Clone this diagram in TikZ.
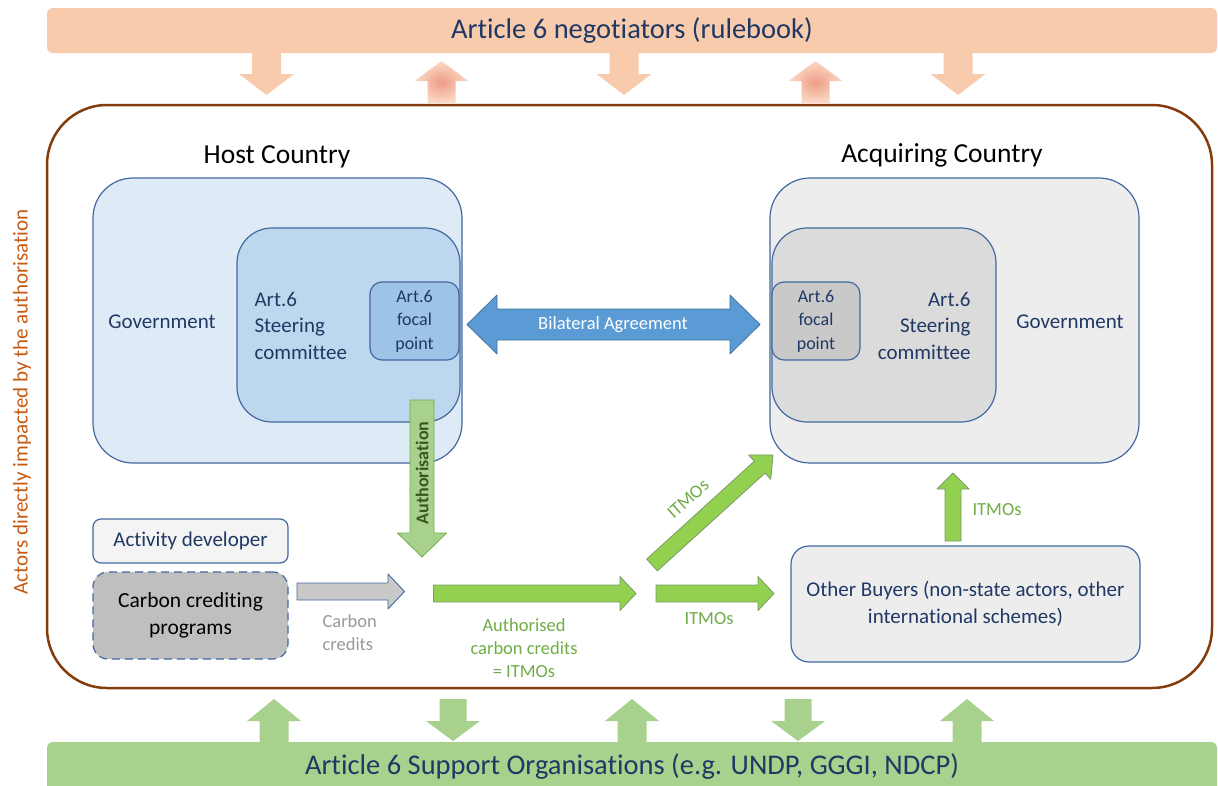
\documentclass[tikz,border=0pt]{standalone}
\usepackage{fontspec}
\setmainfont{Carlito}[Ligatures=NoCommon]
\usetikzlibrary{calc}
\definecolor{navy}{HTML}{203864}
\definecolor{peach}{HTML}{F8CBAD}
\definecolor{salmon}{HTML}{EE9C86}
\definecolor{leaf}{HTML}{A9D18E}
\definecolor{lime}{HTML}{92D050}
\definecolor{limeline}{HTML}{7E9A6A}
\definecolor{moss}{HTML}{70AD47}
\definecolor{forest}{HTML}{385723}
\definecolor{rust}{HTML}{C55A11}
\definecolor{bark}{HTML}{843C0C}
\definecolor{boxline}{HTML}{4468A0}
\definecolor{skyA}{HTML}{DEEBF7}
\definecolor{skyB}{HTML}{BDD7EE}
\definecolor{skyC}{HTML}{9DC3E6}
\definecolor{greyA}{HTML}{EDEDED}
\definecolor{greyB}{HTML}{DBDBDB}
\definecolor{greyC}{HTML}{C9C9C9}
\definecolor{greyD}{HTML}{BFBFBF}
\definecolor{steel}{HTML}{5B9BD5}
\definecolor{steelline}{HTML}{41719C}
\tikzset{every picture/.style={line join=round},
 fat/.style n args={3}{to path={
  ($(\tikztostart)!#1!90:(\tikztotarget)$)
  -- ($(\tikztotarget)!#3!(\tikztostart)!#1!90:(\tikztotarget)$)
  -- ($(\tikztotarget)!#3!(\tikztostart)!#2!90:(\tikztotarget)$)
  -- (\tikztotarget)
  -- ($(\tikztotarget)!#3!(\tikztostart)!#2!-90:(\tikztotarget)$)
  -- ($(\tikztotarget)!#3!(\tikztostart)!#1!-90:(\tikztotarget)$)
  -- ($(\tikztostart)!#1!-90:(\tikztotarget)$) -- cycle}},
 twofat/.style n args={3}{to path={
  ($(\tikztostart)!#3!(\tikztotarget)!#1!90:(\tikztotarget)$)
  -- ($(\tikztotarget)!#3!(\tikztostart)!#1!90:(\tikztotarget)$)
  -- ($(\tikztotarget)!#3!(\tikztostart)!#2!90:(\tikztotarget)$)
  -- (\tikztotarget)
  -- ($(\tikztotarget)!#3!(\tikztostart)!#2!-90:(\tikztotarget)$)
  -- ($(\tikztotarget)!#3!(\tikztostart)!#1!-90:(\tikztotarget)$)
  -- ($(\tikztostart)!#3!(\tikztotarget)!#1!-90:(\tikztotarget)$)
  -- ($(\tikztostart)!#3!(\tikztotarget)!#2!-90:(\tikztotarget)$)
  -- (\tikztostart)
  -- ($(\tikztostart)!#3!(\tikztotarget)!#2!90:(\tikztotarget)$) -- cycle}},
 band/.style={rounded corners=6pt,inner sep=0pt,text=navy,font=\fontsize{28.5}{32}\selectfont},
 box/.style={draw=boxline,line width=1.2pt,rounded corners=#1,inner sep=0pt,align=center},
 box/.default=12pt,
 boxtext/.style={text=navy,font=\fontsize{21}{26.5}\selectfont},
 focaltext/.style={text=navy,font=\fontsize{18}{23.5}\selectfont},
 title/.style={font=\fontsize{27.5}{32}\selectfont},
 lbl/.style={text=moss,align=center,font=\fontsize{18.5}{23}\selectfont},
 greenarrow/.style={fill=lime,draw=limeline,line width=.8pt}}

\begin{document}
\begin{tikzpicture}[x=1pt,y=-1pt]
\useasboundingbox (0,0) rectangle (1218,785);
% outside bands
\node[band,fill=peach,minimum width=1170pt,minimum height=45pt] (negot) at (632,30.5) {Article 6 negotiators (rulebook)};
\node[band,fill=leaf,minimum width=1170pt,minimum height=50pt] (support) at (632,767) {Article 6 Support Organisations (e.g. UNDP, GGGI, NDCP)};
\foreach \x [count=\i] in {266.5,624,958} {
  \coordinate (nd\i-a) at (\x,50);
  \coordinate (nd\i-b) at (\x,95);
  \fill[peach,fat={14.5pt}{27.5pt}{21pt}] (nd\i-a) to (nd\i-b);
}
\foreach \x [count=\i] in {441.5,815.5} {
  \coordinate (nu\i-a) at (\x,103);
  \coordinate (nu\i-b) at (\x,61);
  \shade[inner color=salmon,outer color=peach!70,fat={14pt}{27pt}{20pt}] (nu\i-a) to (nu\i-b);
}
\foreach \x [count=\i] in {274,632,967} {
  \coordinate (su\i-a) at (\x,744);
  \coordinate (su\i-b) at (\x,699);
  \fill[leaf,fat={14.5pt}{27pt}{22pt}] (su\i-a) to (su\i-b);
}
\foreach \x [count=\i] in {453,798} {
  \coordinate (sd\i-a) at (\x,699);
  \coordinate (sd\i-b) at (\x,741);
  \fill[leaf,fat={13.5pt}{27pt}{20pt}] (sd\i-a) to (sd\i-b);
}
% actors frame
\node[draw=bark,line width=2.5pt,rounded corners=60pt,fill=white,minimum width=1165pt,minimum height=583pt] (actors) at (629.5,396.5) {};
\node[rotate=90,text=rust,font=\fontsize{21}{24}\selectfont] (impact) at (22,402) {Actors directly impacted by the authorisation};
% host country
\node[title] (host) at (277,157) {Host Country};
\node[box=40pt,fill=skyA,minimum width=369pt,minimum height=285pt] (hostgov) at (277.5,320.5) {};
\node[box=35pt,fill=skyB,minimum width=223pt,minimum height=194pt] (hoststeer) at (348.5,325) {};
\node[box,fill=skyC,minimum width=89pt,minimum height=78pt,focaltext] (hostfocal) at (414.5,321) {Art.6\\focal\\point};
\node[boxtext] (hostgovtxt) at (162,322) {Government};
\node[boxtext,anchor=west,align=left] (hoststeertxt) at (251,325.5) {Art.6\\Steering\\committee};
% acquiring country
\node[title] (acq) at (942,155) {Acquiring Country};
\node[box=40pt,fill=greyA,minimum width=369pt,minimum height=285pt] (acqgov) at (954.5,320.5) {};
\node[box=35pt,fill=greyB,minimum width=224pt,minimum height=194pt] (acqsteer) at (884,325) {};
\node[box,fill=greyC,minimum width=88pt,minimum height=78pt,focaltext] (acqfocal) at (816,321) {Art.6\\focal\\point};
\node[boxtext] (acqgovtxt) at (1070,322) {Government};
\node[boxtext,anchor=east,align=right] (acqsteertxt) at (974,325.5) {Art.6\\Steering\\committee};
% bilateral agreement
\coordinate (bil-a) at (467,324.5);
\coordinate (bil-b) at (760,324.5);
\draw[fill=steel,draw=steelline,line width=.8pt,twofat={15.5pt}{29.5pt}{30pt}] (bil-a) to (bil-b);
\node[text=white,font=\fontsize{18.5}{22}\selectfont] (biltxt) at (613,325) {Bilateral Agreement};
% activity developer side
\node[box=8pt,fill=greyA!60!white,minimum width=195pt,minimum height=44pt,boxtext] (actdev) at (190.5,541) {Activity developer};
\node[box=15pt,dash pattern=on 8pt off 5pt,fill=greyD,minimum width=195pt,minimum height=87pt,font=\fontsize{21.5}{27}\selectfont] (ccp) at (190.5,615.5) {Carbon crediting\\programs};
\node[box=18pt,fill=greyA,minimum width=349pt,minimum height=116pt,text=navy,font=\fontsize{21}{27}\selectfont] (buyers) at (965.5,604) {Other Buyers (non-state actors, other\\international schemes)};
% authorisation
\coordinate (auth-a) at (422,400);
\coordinate (auth-b) at (422,557);
\draw[fill=leaf,draw=moss,line width=.8pt,fat={12pt}{24.5pt}{24pt}] (auth-a) to (auth-b);
\node[rotate=90,text=forest,font=\bfseries\fontsize{18}{20}\selectfont] (authtxt) at (422,473) {Authorisation};
% credit flows
\coordinate (cc-a) at (297,591.5);
\coordinate (cc-b) at (404.5,591.5);
\draw[fill=greyC,draw=boxline,line width=.9pt,fat={8.5pt}{17.5pt}{16.5pt}] (cc-a) to (cc-b);
\node[lbl,text=greyD!80!black,align=left,anchor=west] (cctxt) at (319,632.5) {Carbon\\credits};
\coordinate (itmo-a) at (433.5,593.5);
\coordinate (itmo-b) at (636,593.5);
\draw[greenarrow,fat={8.5pt}{17pt}{16pt}] (itmo-a) to (itmo-b);
\node[lbl] (itmotxt) at (524,648) {Authorised\\carbon credits\\= ITMOs};
\coordinate (ob-a) at (656,593.5);
\coordinate (ob-b) at (774,593.5);
\draw[greenarrow,fat={8.5pt}{17pt}{16pt}] (ob-a) to (ob-b);
\node[lbl] (obtxt) at (709,619) {ITMOs};
\coordinate (ac-a) at (652,565);
\coordinate (ac-b) at (773,455);
\draw[greenarrow,fat={8pt}{16.5pt}{18pt}] (ac-a) to (ac-b);
\node[lbl,rotate=42] (actxt) at (688,499) {ITMOs};
\coordinate (up-a) at (953,541);
\coordinate (up-b) at (953,473);
\draw[greenarrow,fat={8pt}{16pt}{16pt}] (up-a) to (up-b);
\node[lbl,anchor=west] (uptxt) at (969,510) {ITMOs};
\end{tikzpicture}
\end{document}
